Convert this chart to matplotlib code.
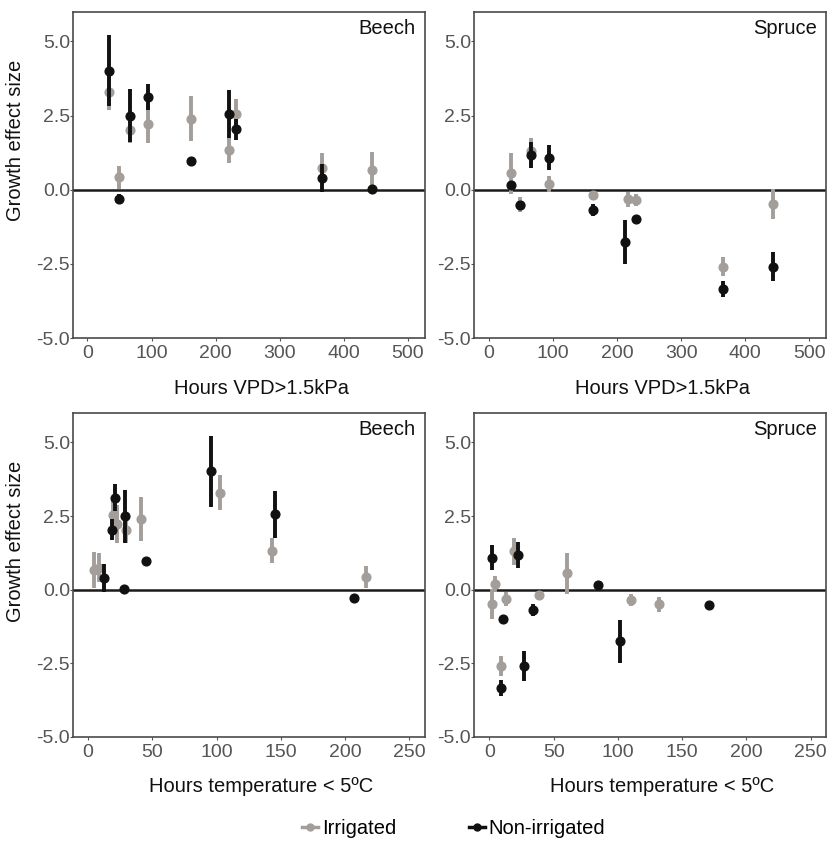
import matplotlib.pyplot as plt
from matplotlib.lines import Line2D

plt.rcParams['font.family'] = ['Liberation Sans', 'DejaVu Sans']

# beech, irrigated
beech_irr_effect = [3.3, 0.42, 2.02, 2.22, 2.4, 1.33, 2.55, 0.75, 0.67]
beech_irr_err = [0.6, 0.38, 0.45, 0.65, 0.75, 0.43, 0.5, 0.5, 0.6]
beech_irr_vpd = [34, 49, 67, 94, 161, 221, 231, 366, 444]
beech_irr_temp = [103, 216, 29.3, 22.6, 41.5, 142.8, 19.5, 8.3, 4.7]

# beech, non-irrigated
beech_non_effect = [4.02, -0.3, 2.5, 3.13, 0.97, 2.56, 2.04, 0.39, 0.02]
beech_non_err = [1.2, 0.15, 0.9, 0.45, 0.12, 0.8, 0.35, 0.48, 0.1]
beech_non_vpd = [34, 49, 67, 94, 161, 221, 231, 366, 444]
beech_non_temp = [95.5, 207, 28.6, 20.8, 45.4, 145.4, 18.7, 12, 28]

# spruce, irrigated
spruce_irr_effect = [0.55, -0.5, 1.3, 0.19, -0.19, -0.32, -0.36, -2.59, -0.49]
spruce_irr_err = [0.7, 0.25, 0.45, 0.28, 0.15, 0.25, 0.2, 0.33, 0.5]
spruce_irr_vpd = [34, 49.5, 66.7, 93.8, 162.5, 216.7, 229, 365.6, 442.7]
spruce_irr_temp = [60.7, 132, 19.5, 4.4, 38.5, 13, 110, 9.1, 1.8]

# spruce, non-irrigated
spruce_non_effect = [0.15, -0.53, 1.17, 1.08, -0.68, -1.76, -0.99, -3.35, -2.59]
spruce_non_err = [0.12, 0.12, 0.45, 0.42, 0.2, 0.74, 0.08, 0.27, 0.5]
spruce_non_vpd = [34, 49.5, 66.7, 93.8, 162.5, 212.5, 229, 365.6, 442.7]
spruce_non_temp = [84.6, 170.6, 22.1, 1.8, 33.9, 102, 10.7, 9.1, 27.3]

y_ticks = [-5, -2.5, 0, 2.5, 5]
y_ticklabels = ['-5.0', '-2.5', '0.0', '2.5', '5.0']
vpd_ticks = [0, 100, 200, 300, 400, 500]
temp_ticks = [0, 50, 100, 150, 200, 250]

GREY = '#a39e99'
BLACK = '#111111'

fig = plt.figure(figsize=(8.32, 8.43), dpi=100)


def panel(rect, species, x_irr, y_irr, e_irr, x_non, y_non, e_non,
          xticks, xlim, xlabel, ylabel):
    ax = fig.add_axes(rect)
    ax.axhline(0, color='#1a1a1a', lw=1.8, zorder=1)
    ax.errorbar(x_irr, y_irr, yerr=e_irr, fmt='o', color=GREY, ms=6.3,
                elinewidth=2.8, capsize=0, zorder=2)
    ax.errorbar(x_non, y_non, yerr=e_non, fmt='o', color=BLACK, ms=6.3,
                elinewidth=2.8, capsize=0, zorder=3)
    ax.set_xlim(*xlim)
    ax.set_ylim(-5, 6)
    ax.set_yticks(y_ticks)
    ax.set_yticklabels(y_ticklabels)
    ax.set_xticks(xticks)
    ax.tick_params(axis='y', labelsize=14, colors='#555555', length=2, pad=0)
    ax.tick_params(axis='x', labelsize=14, colors='#555555', length=2, pad=3)
    for s in ax.spines.values():
        s.set_color('#4a4a4a')
        s.set_linewidth(1.2)
    ax.text(0.975, 0.978, species, transform=ax.transAxes, ha='right',
            va='top', fontsize=14.5, color='#111111')
    ax.set_xlabel(xlabel, fontsize=14.5, color='#111111')
    ax.xaxis.set_label_coords(0.535, -0.125)
    if ylabel:
        ax.set_ylabel(ylabel, fontsize=14.5, color='#111111')
        ax.yaxis.set_label_coords(-0.135, 0.605)
    return ax


vpd_lim = (-23, 526)
temp_lim = (-12, 262)
top_b, top_h = 0.599, 0.387
bot_b, bot_h = 0.126, 0.384
left_l, right_l, w = 0.0874, 0.5697, 0.423

panel([left_l, top_b, w, top_h], 'Beech',
      beech_irr_vpd, beech_irr_effect, beech_irr_err,
      beech_non_vpd, beech_non_effect, beech_non_err,
      vpd_ticks, vpd_lim, 'Hours VPD>1.5kPa', 'Growth effect size')
panel([right_l, top_b, w, top_h], 'Spruce',
      spruce_irr_vpd, spruce_irr_effect, spruce_irr_err,
      spruce_non_vpd, spruce_non_effect, spruce_non_err,
      vpd_ticks, vpd_lim, 'Hours VPD>1.5kPa', None)
panel([left_l, bot_b, w, bot_h], 'Beech',
      beech_irr_temp, beech_irr_effect, beech_irr_err,
      beech_non_temp, beech_non_effect, beech_non_err,
      temp_ticks, temp_lim, 'Hours temperature < 5ºC', 'Growth effect size')
panel([right_l, bot_b, w, bot_h], 'Spruce',
      spruce_irr_temp, spruce_irr_effect, spruce_irr_err,
      spruce_non_temp, spruce_non_effect, spruce_non_err,
      temp_ticks, temp_lim, 'Hours temperature < 5ºC', None)

handles = [Line2D([], [], color=GREY, marker='o', lw=2.5, ms=5),
           Line2D([], [], color=BLACK, marker='o', lw=2.5, ms=5)]
fig.legend(handles, ['Irrigated', 'Non-irrigated'], loc='center',
           bbox_to_anchor=(0.545, 0.017), ncol=2, frameon=False, fontsize=14.5,
           handlelength=0.8, handletextpad=0.2, columnspacing=3.6,
           borderpad=0.1)

fig.savefig('out.png', dpi=100)
